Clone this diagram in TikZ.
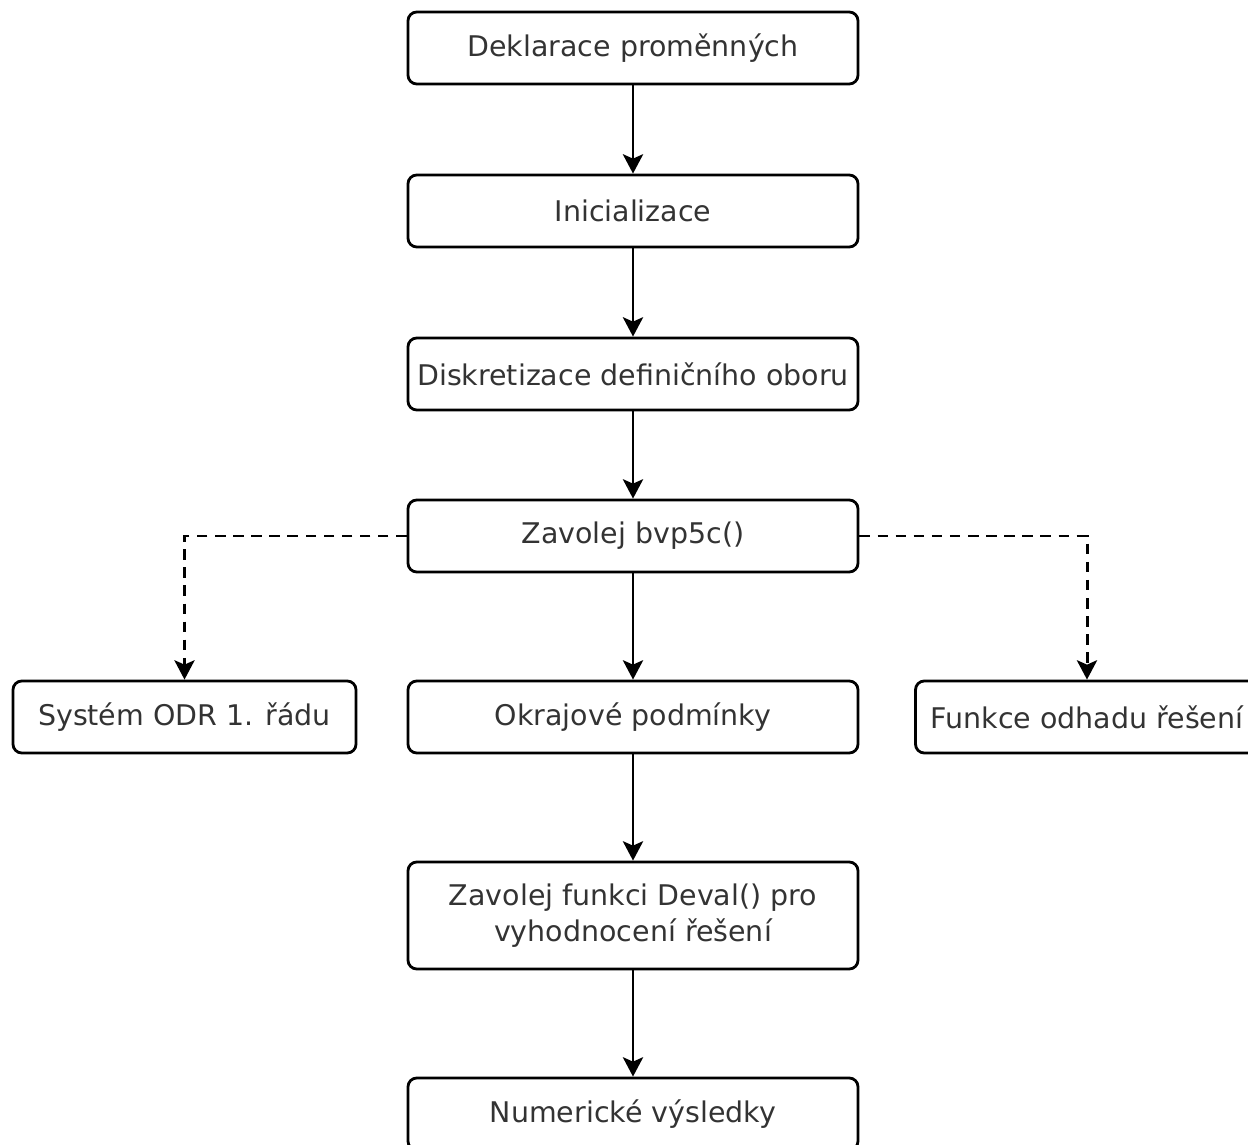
\documentclass[tikz,border=0pt]{standalone}
\usepackage{fontspec}
\setmainfont{DejaVu Sans}
\usetikzlibrary{
  arrows.meta,
  positioning
}
\definecolor{txt}{RGB}{51,51,51}

\begin{document}
\begin{tikzpicture}[
  every node/.style={font=\fontsize{16.2}{20.5}\selectfont, text=txt},
  stepbox/.style={draw, line width=1.6pt, rounded corners=5pt, align=center,
                  minimum width=9cm, minimum height=1.44cm, inner xsep=1pt},
  sidebox/.style={stepbox, minimum width=6.86cm},
  flow/.style={->, line width=1.7pt},
  callflow/.style={flow, dash pattern=on 6pt off 4.3pt},
  >={Stealth[length=11pt, width=11.5pt, inset=2.5pt]}
]

\useasboundingbox (0, 0) rectangle (24.96, -22.9);

% main column
\node[stepbox] (decl) at (12.66, -0.96) {Deklarace proměnných};
\node[stepbox] (init) at (12.66, -4.22) {Inicializace};
\node[stepbox] (disc) at (12.66, -7.48) {Diskretizace definičního oboru};
\node[stepbox] (call) at (12.66, -10.72) {Zavolej bvp5c()};
\node[stepbox] (bc) at (12.66, -14.34) {Okrajové podmínky};
\node[stepbox, minimum height=2.14cm] (deval) at (12.66, -18.31)
  {Zavolej funkci Deval() pro\\vyhodnocení řešení};
\node[stepbox] (res) at (12.66, -22.28) {Numerické výsledky};

% inputs of the solver
\node[sidebox] (odr) at (3.69, -14.34) {Systém ODR 1. řádu};
\node[sidebox] (guess) at (21.74, -14.34) {Funkce odhadu řešení};

\draw[flow] (decl) -- (init);
\draw[flow] (init) -- (disc);
\draw[flow] (disc) -- (call);
\draw[flow] (call) -- (bc);
\draw[flow] (bc) -- (deval);
\draw[flow] (deval) -- (res);

\draw[callflow] (call.west) -| (odr.north);
\draw[callflow] (call.east) -| (guess.north);

\end{tikzpicture}
\end{document}
